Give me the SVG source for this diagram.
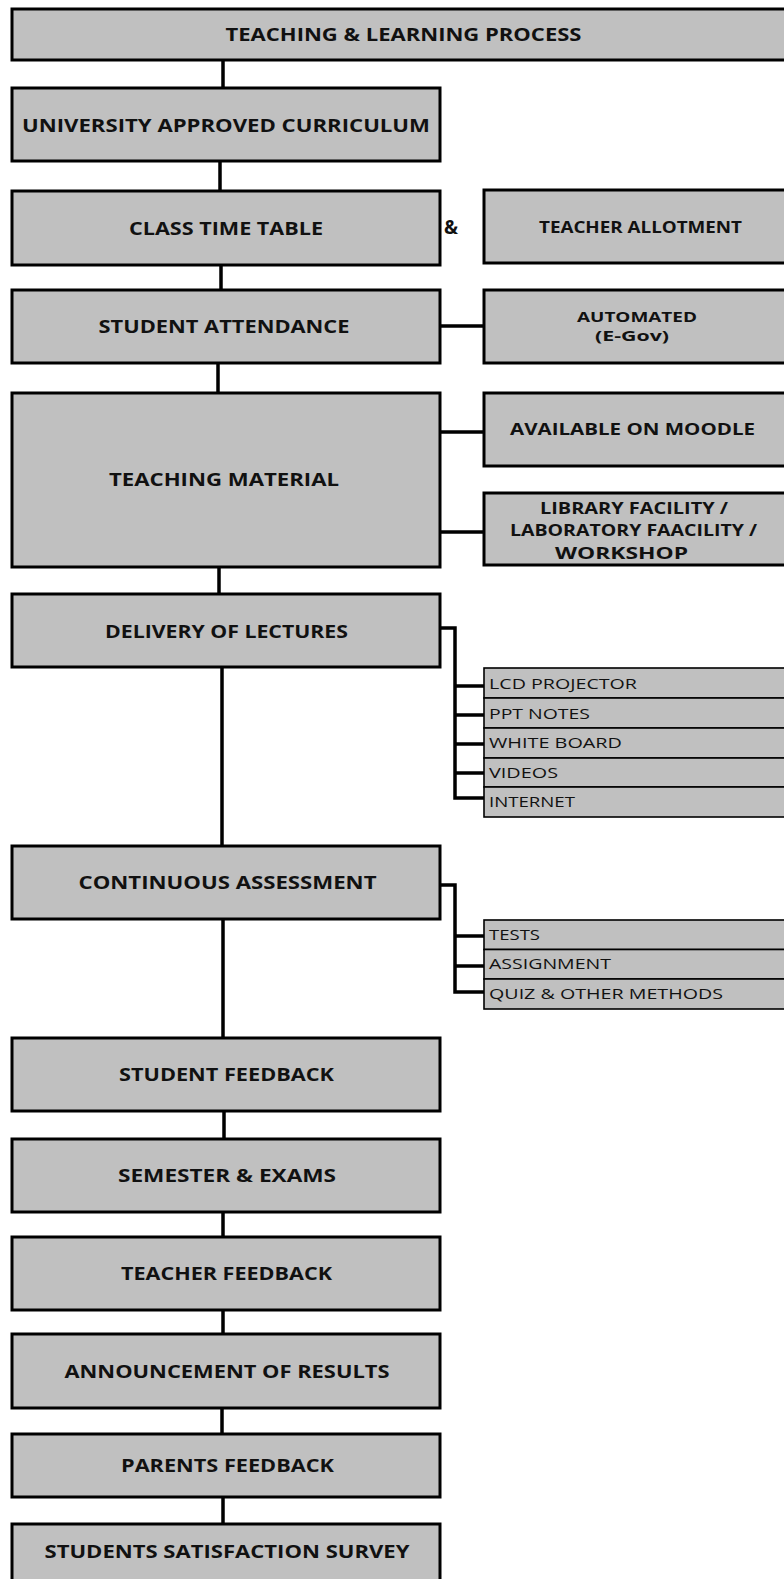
<svg xmlns="http://www.w3.org/2000/svg" width="784" height="1579" viewBox="0 0 784 1579">
<style>
.box{fill:#c0c0c0;stroke:#000;stroke-width:3}
.row{fill:#c0c0c0;stroke:#000;stroke-width:1.6}
.t{font-family:"Open Sans","Liberation Sans",sans-serif;font-weight:700;font-size:17.5px;fill:#111}
.s{font-family:"Open Sans","Liberation Sans",sans-serif;font-weight:700;font-size:15.5px;fill:#111}
.r{font-family:"Open Sans","Liberation Sans",sans-serif;font-weight:400;font-size:14px;fill:#111}
.c{fill:none;stroke:#000;stroke-width:3.5}
</style>
<rect width="784" height="1579" fill="#fff"/>
<g id="connectors">
<path class="c" d="M223 60V88M220 161V191M221 265V290M218 363V393M219 567V594M222 667V846M223 919V1038M224 1111V1139M223 1212V1237M223 1310V1334M222 1408V1434M223 1497V1524"/>
<path class="c" d="M440 326H484M440 432H484M440 532H484"/>
<path class="c" d="M440 628H455V798H484M455 686H484M455 715H484M455 744H484M455 773H484"/>
<path class="c" d="M440 885H455V992H484M455 936H484M455 966H484"/>
</g>
<g id="n-process"><rect class="box" x="12" y="9" width="800" height="51"/><text class="t" x="225.5" y="41" textLength="356" lengthAdjust="spacingAndGlyphs">TEACHING &amp; LEARNING PROCESS</text></g>
<g id="n-curriculum"><rect class="box" x="12" y="88" width="428" height="73"/><text class="t" x="22" y="131.5" textLength="408" lengthAdjust="spacingAndGlyphs">UNIVERSITY APPROVED CURRICULUM</text></g>
<g id="n-timetable"><rect class="box" x="12" y="191" width="428" height="74"/><text class="t" x="129" y="234.5" textLength="194" lengthAdjust="spacingAndGlyphs">CLASS TIME TABLE</text></g>
<g id="n-amp"><text class="t" x="444" y="234" style="font-size:20px" textLength="14" lengthAdjust="spacingAndGlyphs">&amp;</text></g>
<g id="n-allotment"><rect class="box" x="484" y="190" width="330" height="73"/><text class="s" x="539" y="232.5" textLength="203" lengthAdjust="spacingAndGlyphs">TEACHER ALLOTMENT</text></g>
<g id="n-attendance"><rect class="box" x="12" y="290" width="428" height="73"/><text class="t" x="98.5" y="332.5" textLength="251" lengthAdjust="spacingAndGlyphs">STUDENT ATTENDANCE</text></g>
<g id="n-automated"><rect class="box" x="484" y="290" width="330" height="73"/><text class="s" x="577" y="321.5" style="font-size:14.5px" textLength="120" lengthAdjust="spacingAndGlyphs">AUTOMATED</text><text class="s" x="595" y="340.5" style="font-size:14.5px" textLength="74" lengthAdjust="spacingAndGlyphs">(E-Gov)</text></g>
<g id="n-material"><rect class="box" x="12" y="393" width="428" height="174"/><text class="t" x="109" y="486" textLength="230" lengthAdjust="spacingAndGlyphs">TEACHING MATERIAL</text></g>
<g id="n-moodle"><rect class="box" x="484" y="393" width="330" height="73"/><text class="s" x="510" y="435" textLength="245" lengthAdjust="spacingAndGlyphs">AVAILABLE ON MOODLE</text></g>
<g id="n-library"><rect class="box" x="484" y="493" width="330" height="72"/><text class="s" x="540" y="514" textLength="188" lengthAdjust="spacingAndGlyphs">LIBRARY FACILITY /</text><text class="s" x="510" y="536" textLength="247" lengthAdjust="spacingAndGlyphs">LABORATORY FAACILITY /</text><text class="s" x="555" y="558.5" textLength="133" lengthAdjust="spacingAndGlyphs">WORKSHOP</text></g>
<g id="n-delivery"><rect class="box" x="12" y="594" width="428" height="73"/><text class="t" x="105" y="637.5" textLength="243" lengthAdjust="spacingAndGlyphs">DELIVERY OF LECTURES</text></g>
<g id="n-tools">
<rect class="row" x="484" y="668" width="330" height="30"/><text class="r" x="489" y="689" textLength="148" lengthAdjust="spacingAndGlyphs">LCD PROJECTOR</text>
<rect class="row" x="484" y="698" width="330" height="30"/><text class="r" x="489" y="718.5" textLength="101" lengthAdjust="spacingAndGlyphs">PPT NOTES</text>
<rect class="row" x="484" y="728" width="330" height="30"/><text class="r" x="489" y="748" textLength="133" lengthAdjust="spacingAndGlyphs">WHITE BOARD</text>
<rect class="row" x="484" y="758" width="330" height="29"/><text class="r" x="489" y="777.5" textLength="69" lengthAdjust="spacingAndGlyphs">VIDEOS</text>
<rect class="row" x="484" y="787" width="330" height="30"/><text class="r" x="489" y="806.5" textLength="86" lengthAdjust="spacingAndGlyphs">INTERNET</text>
</g>
<g id="n-assessment"><rect class="box" x="12" y="846" width="428" height="73"/><text class="t" x="78.5" y="889" textLength="298" lengthAdjust="spacingAndGlyphs">CONTINUOUS ASSESSMENT</text></g>
<g id="n-methods">
<rect class="row" x="484" y="920" width="330" height="29.5"/><text class="r" x="489" y="939.5" textLength="51" lengthAdjust="spacingAndGlyphs">TESTS</text>
<rect class="row" x="484" y="949.5" width="330" height="29.5"/><text class="r" x="489" y="968.5" textLength="122" lengthAdjust="spacingAndGlyphs">ASSIGNMENT</text>
<rect class="row" x="484" y="979" width="330" height="30"/><text class="r" x="489" y="998.5" textLength="234" lengthAdjust="spacingAndGlyphs">QUIZ &amp; OTHER METHODS</text>
</g>
<g id="n-studentfb"><rect class="box" x="12" y="1038" width="428" height="73"/><text class="t" x="119" y="1080.5" textLength="215" lengthAdjust="spacingAndGlyphs">STUDENT FEEDBACK</text></g>
<g id="n-semester"><rect class="box" x="12" y="1139" width="428" height="73"/><text class="t" x="118" y="1182" textLength="218" lengthAdjust="spacingAndGlyphs">SEMESTER &amp; EXAMS</text></g>
<g id="n-teacherfb"><rect class="box" x="12" y="1237" width="428" height="73"/><text class="t" x="121" y="1279.5" textLength="211" lengthAdjust="spacingAndGlyphs">TEACHER FEEDBACK</text></g>
<g id="n-results"><rect class="box" x="12" y="1334" width="428" height="74"/><text class="t" x="64.5" y="1377.5" textLength="325" lengthAdjust="spacingAndGlyphs">ANNOUNCEMENT OF RESULTS</text></g>
<g id="n-parentsfb"><rect class="box" x="12" y="1434" width="428" height="63"/><text class="t" x="121" y="1472" textLength="213" lengthAdjust="spacingAndGlyphs">PARENTS FEEDBACK</text></g>
<g id="n-survey"><rect class="box" x="12" y="1524" width="428" height="80"/><text class="t" x="44.5" y="1557.5" textLength="365" lengthAdjust="spacingAndGlyphs">STUDENTS SATISFACTION SURVEY</text></g>
</svg>
